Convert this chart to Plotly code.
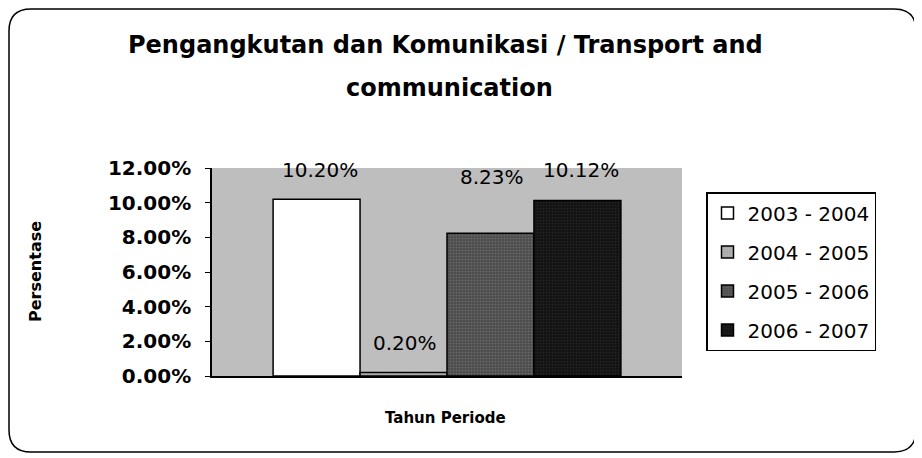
import plotly.graph_objects as go

# data
periods = ["2003 - 2004", "2004 - 2005", "2005 - 2006", "2006 - 2007"]
growth = [0.1020, 0.0020, 0.0823, 0.1012]
labels = ["10.20%", "0.20%", "8.23%", "10.12%"]
y_ticks = [0, 0.02, 0.04, 0.06, 0.08, 0.10, 0.12]
category = "Tahun Periode"

fills = ["#ffffff", "#a8a8a8", "#4e4e4e", "#121212"]
dots = ["#ffffff", "#d8d8d8", "#8a8a8a", "#3a3a3a"]
label_xshift = [-127, -42, 45, 134]
label_yshift = [29, 30, 56, 31]

FONT = "DejaVu Sans"
# page body has an 8px margin, so the figure is drawn 8px in from the corner
W, H = 914, 450
L, R, T, B = 204, 240, 160, 82

fig = go.Figure()
for i, p in enumerate(periods):
    fig.add_trace(go.Bar(
        x=[category], y=[growth[i]], name=p, legendgroup=p,
        marker=dict(color=fills[i], line=dict(color="#000", width=1.5),
                    pattern=dict(shape="." if i > 0 else "", fgcolor=dots[i],
                                 size=3, solidity=0.25)),
    ))

annotations = []
for i, t in enumerate(labels):
    annotations.append(dict(x=category, y=growth[i], xref="x", yref="y", text=t,
                            showarrow=False, xshift=label_xshift[i], yshift=label_yshift[i],
                            font=dict(size=20, family=FONT, color="#000")))


def px(x):
    return (x - L) / (W - L - R)


def py(y):
    return 1 - (y - T) / (H - T - B)


def note(text, x, y, size, **kw):
    return dict(text=text, x=px(x), y=py(y), xref="paper", yref="paper",
                xanchor="center", yanchor="middle", showarrow=False,
                font=dict(size=size, family=FONT), **kw)


annotations += [
    note("<b>Pengangkutan dan Komunikasi / Transport and</b>", 437, 37, 24),
    note("<b>communication</b>", 441, 80, 24),
    note("<b>Tahun Periode</b>", 437, 410, 15),
    note("<b>Persentase</b>", 27, 264, 16, textangle=-90),
]

# rounded outer frame
x0, x1, y0, y1, r = 1, 908, 1, 444, 22
path = (f"M {px(x0 + r)} {py(y0)} L {px(x1 - r)} {py(y0)} "
        f"Q {px(x1)} {py(y0)} {px(x1)} {py(y0 + r)} L {px(x1)} {py(y1 - r)} "
        f"Q {px(x1)} {py(y1)} {px(x1 - r)} {py(y1)} L {px(x0 + r)} {py(y1)} "
        f"Q {px(x0)} {py(y1)} {px(x0)} {py(y1 - r)} L {px(x0)} {py(y0 + r)} "
        f"Q {px(x0)} {py(y0)} {px(x0 + r)} {py(y0)} Z")

fig.update_layout(
    width=W, height=H,
    margin=dict(l=L, r=R, t=T, b=B),
    paper_bgcolor="#ffffff",
    plot_bgcolor="#bebebe",
    font=dict(family=FONT, color="#000"),
    barmode="group", bargap=0.26, bargroupgap=0,
    showlegend=True,
    legend=dict(x=px(698), y=py(184), xanchor="left", yanchor="top",
                bordercolor="#000", borderwidth=1.5, bgcolor="#fff",
                font=dict(size=20, family=FONT), tracegroupgap=10, itemwidth=30),
    annotations=annotations,
    shapes=[dict(type="path", xref="paper", yref="paper", path=path,
                 line=dict(color="#000", width=1.5), layer="below")],
)
fig.update_xaxes(showticklabels=False, showline=True, linecolor="#000", linewidth=1.5)
fig.update_yaxes(range=[0, 0.12], tickvals=y_ticks, tickformat=".2%",
                 showline=True, linecolor="#000", linewidth=1.5,
                 ticks="outside", ticklen=5, tickcolor="#000", ticklabelstandoff=10,
                 showgrid=False, zeroline=False,
                 tickfont=dict(size=20, family=FONT, weight="bold"))

fig.write_html("out.html")
